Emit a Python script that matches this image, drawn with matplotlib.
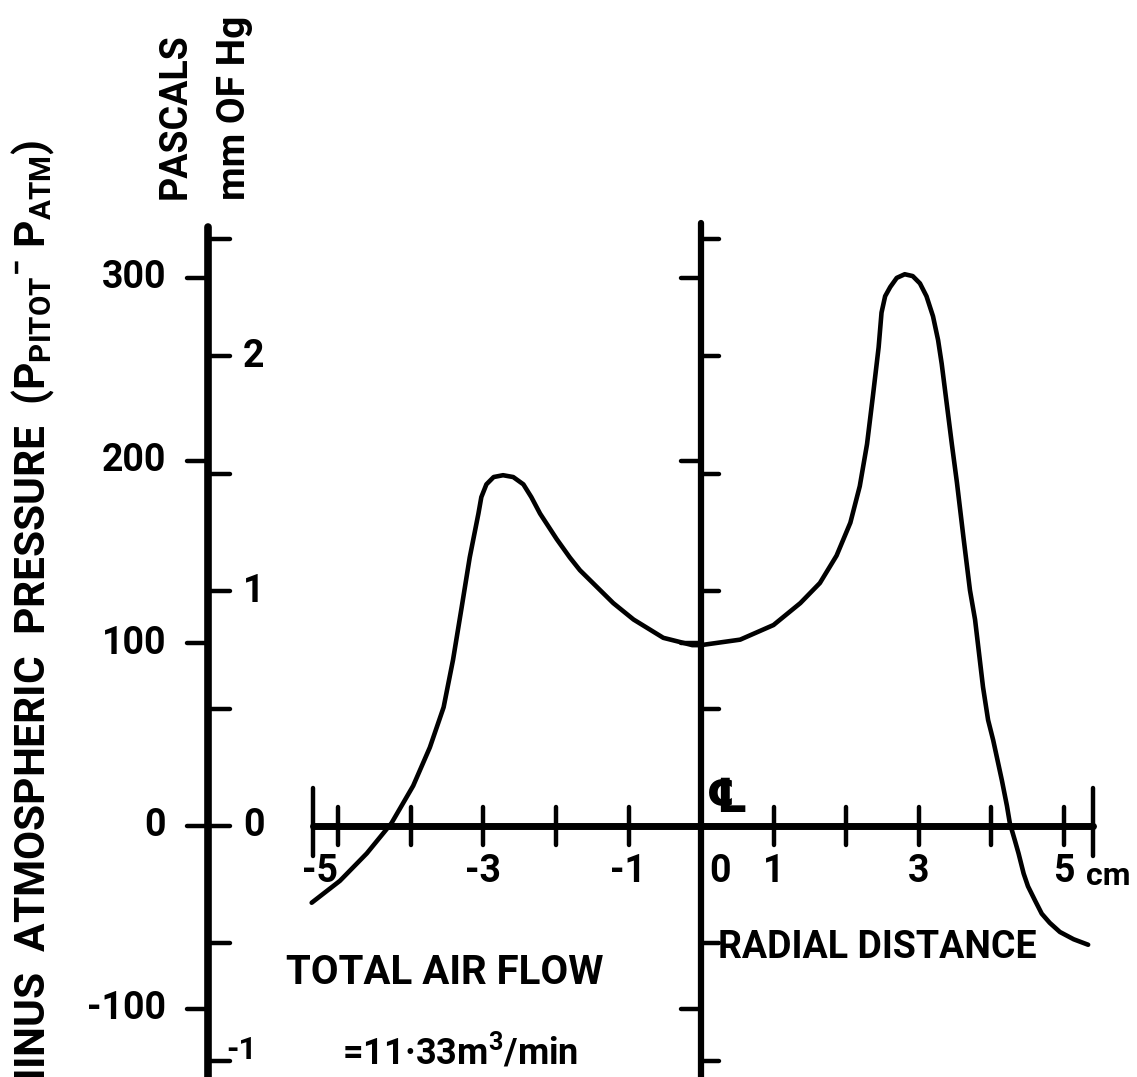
import matplotlib
matplotlib.use('Agg')
import matplotlib.pyplot as plt

plt.rcParams['font.family'] = ['Roboto', 'DejaVu Sans']
plt.rcParams['font.weight'] = 'bold'
plt.rcParams['mathtext.fontset'] = 'custom'
plt.rcParams['mathtext.rm'] = 'Roboto:bold'
plt.rcParams['mathtext.it'] = 'Roboto:bold'
plt.rcParams['mathtext.bf'] = 'Roboto:bold'

# pitot traverse across the duct: radial distance [cm] vs P_pitot - P_atm [Pa]
radius = [-5.37, -4.98, -4.61, -4.27, -3.97, -3.74, -3.55, -3.42, -3.30, -3.19,
          -3.07, -3.03, -2.96, -2.86, -2.73, -2.59, -2.45, -2.34, -2.22, -1.99,
          -1.81, -1.67, -1.44, -1.21, -0.93, -0.52, -0.12, 0.00, 0.54, 1.00,
          1.37, 1.64, 1.87, 2.06, 2.19, 2.29, 2.37, 2.45, 2.49, 2.54,
          2.61, 2.70, 2.81, 2.92, 3.02, 3.11, 3.20, 3.27, 3.32, 3.39,
          3.46, 3.53, 3.62, 3.71, 3.78, 3.89, 3.96, 4.03, 4.15, 4.22,
          4.26, 4.33, 4.38, 4.45, 4.51, 4.61, 4.70, 4.81, 4.95, 5.14,
          5.34]
pressure = [-42, -30, -15, 1.5, 22, 43, 65, 91, 120, 147,
            171, 180, 187, 191, 192, 191, 187, 180, 171, 157,
            147, 140, 131, 122, 113, 103, 99, 99, 102, 110,
            122, 133, 148, 166, 186, 209, 235, 262, 281, 290,
            295, 300, 302, 301, 297, 290, 279, 266, 253, 231,
            209, 188, 158, 129, 113, 76, 58, 47, 25, 11,
            1.5, -8, -15, -26, -33, -41, -48, -53, -58, -62,
            -65]

pa_ticks = [300, 200, 100, 0, -100]
mmhg_ticks = [2.5, 2, 1.5, 1, 0.5, 0, -0.5, -1]
mmhg_labels = [2, 1, 0, -1]
cm_ticks = [-5, -4, -3, -2, -1, 1, 2, 3, 4, 5]
cm_labels = [-5, -3, -1, 0, 1, 3, 5]
cm_label_ha = ['right', 'center', 'center', 'left', 'center', 'center', 'center']
PA_PER_MMHG = 128.5   # scale ratio of the two pressure columns as drawn

# drawing scale: pixels per cm horizontally, pixels per Pa vertically
PX_CM = 72.5
PX_PA = 1.827
X0, Y0 = 701, 826
W, H = 1137, 1077


def hx(px):
    return (px - X0) / PX_CM


def hy(px):
    return (Y0 - px) / PX_PA


fig = plt.figure(figsize=(W / 100, H / 100), dpi=100)
ax = fig.add_axes([0, 0, 1, 1])
ax.set_xlim(hx(0), hx(W))
ax.set_ylim(hy(H), hy(0))
ax.axis('off')

k = dict(color='k', solid_capstyle='round')
left_x = hx(208)
ybot = hy(H + 20)

# left pressure scale: Pa ticks outside, mm Hg ticks inside
ax.plot([left_x, left_x], [hy(227), ybot], lw=5.5, **k)
for v in pa_ticks:
    ax.plot([left_x - 21 / PX_CM, left_x], [v, v], lw=3.2, **k)
for m in mmhg_ticks:
    ax.plot([left_x, left_x + 22 / PX_CM], [m * PA_PER_MMHG] * 2, lw=3.2, **k)
for v in pa_ticks:
    ax.text(hx(166), v, '%d' % v, ha='right', va='center', fontsize=27)
for m in mmhg_labels:
    if m < 0:
        ax.text(hx(226), m * PA_PER_MMHG + 6, '%d' % m, ha='left', va='center',
                fontsize=23)
    else:
        ax.text(hx(243), m * PA_PER_MMHG, '%d' % m, ha='left', va='center',
                fontsize=27)

# centreline axis
ax.plot([0, 0], [hy(223), ybot], lw=4.5, **k)
for v in pa_ticks:
    if v != 0:
        ax.plot([-20 / PX_CM, 0], [v, v], lw=3.2, **k)
for m in mmhg_ticks:
    ax.plot([0, 18 / PX_CM], [m * PA_PER_MMHG] * 2, lw=3.2, **k)

# radial distance axis
x_lo, x_hi = hx(313), hx(1093)
ax.plot([x_lo, x_hi], [0, 0], lw=5, **k)
for c in cm_ticks:
    ax.plot([c, c], [-19 / PX_PA, 19 / PX_PA], lw=3.2, **k)
for c in (x_lo, x_hi):
    ax.plot([c, c], [-30 / PX_PA, 38 / PX_PA], lw=3.2, **k)
for c, ha in zip(cm_labels, cm_label_ha):
    xl = c + 8 / PX_CM if c == 0 else c
    ax.text(xl, hy(872), '%d' % c, ha=ha, va='center', fontsize=27)
ax.text(hx(1086), hy(876), 'cm', ha='left', va='center', fontsize=23)
ax.text(hx(727), hy(800), '\u2104', ha='center', va='center', fontsize=34,
        family=['DejaVu Sans'], fontweight='bold')

# pressure profile
ax.plot(radius, pressure, lw=3.3, color='k', solid_joinstyle='round',
        solid_capstyle='round')

ax.text(hx(718), hy(947), 'RADIAL DISTANCE', ha='left', va='center', fontsize=27)
ax.text(hx(445), hy(973), 'TOTAL AIR FLOW', ha='center', va='center', fontsize=29)
ax.text(hx(460), hy(1064), '=11\u00b733m$^{3}$/min', ha='center', va='baseline',
        fontsize=26)

ax.text(hx(33), hy(140),
        r'MINUS  ATMOSPHERIC  PRESSURE  (P$_{\mathrm{PITOT}}$$^{-}$ P$_{\mathrm{ATM}}$)',
        rotation=90, rotation_mode='anchor', ha='right', va='center', fontsize=30.5)
ax.text(hx(175), hy(116), 'PASCALS', rotation=90, ha='center', va='center', fontsize=27)
ax.text(hx(235), hy(108), 'mm OF Hg', rotation=90, ha='center', va='center', fontsize=28)

fig.savefig('out.png', dpi=100)
